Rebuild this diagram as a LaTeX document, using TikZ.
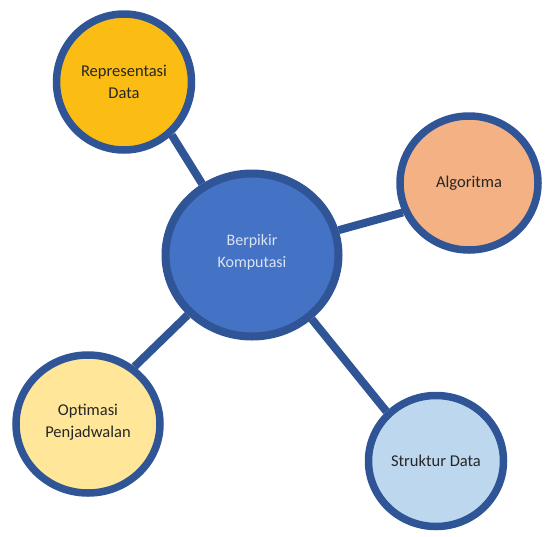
\documentclass[tikz,border=0pt]{standalone}
\usepackage{fontspec}
\setmainfont{Carlito}
\usepackage{tikz}
\usetikzlibrary{shapes.geometric,backgrounds}
\definecolor{rimblue}{HTML}{2F5597}
\definecolor{hubblue}{HTML}{4472C4}
\definecolor{hubtext}{HTML}{DAE3F3}
\definecolor{goldfill}{HTML}{FBBC14}
\definecolor{orangefill}{HTML}{F4B183}
\definecolor{paleyellow}{HTML}{FFE699}
\definecolor{paleblue}{HTML}{BDD7EE}
\tikzset{
  bubble/.style = {ellipse,draw=rimblue,line width=7.5pt,inner sep=0pt,
                   align=center,font=\fontsize{16.5}{22}\selectfont,
                   text=black!85},
  hub/.style    = {bubble,line width=8pt,fill=hubblue,text=hubtext,
                   font=\fontsize{16}{22}\selectfont,
                   minimum width=173pt,minimum height=163pt},
  spoke/.style  = {draw=rimblue,line width=8pt},
}
\begin{document}
\begin{tikzpicture}[x=1pt,y=-1pt]
  \useasboundingbox (0,0) rectangle (559,536);

  \node[hub] (bk) at (252,255) {Berpikir\\Komputasi\\[-13pt]};
  \node[bubble,fill=goldfill,minimum width=135pt,minimum height=136pt]
       (rep) at (124,82) {Representasi\\Data};
  \node[bubble,fill=orangefill,minimum width=138pt,minimum height=134pt]
       (alg) at (469,183) {Algoritma};
  \node[bubble,fill=paleyellow,minimum width=144pt,minimum height=138pt]
       (opt) at (88,424) {Optimasi\\Penjadwalan\\[-16pt]};
  \node[bubble,fill=paleblue,minimum width=135pt,minimum height=131pt]
       (str) at (436,461) {Struktur Data};

  % spokes behind the bubbles
  \begin{scope}[on background layer]
    \draw[spoke] (bk.125) -- (rep.-48);
    \draw[spoke] (bk.16) -- (alg.204);
    \draw[spoke] (bk.223) -- (opt.51);
    \draw[spoke] (bk.-47) -- (str.135);
  \end{scope}
\end{tikzpicture}
\end{document}
